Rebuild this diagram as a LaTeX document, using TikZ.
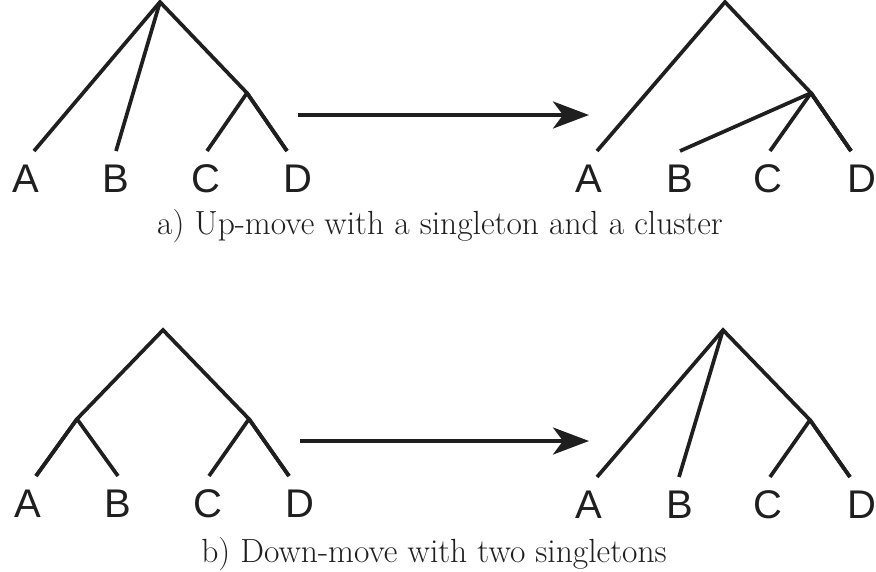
\documentclass[tikz,border=0pt]{standalone}
\usepackage{fontspec}
\newfontfamily\labfont{Liberation Sans}
\usetikzlibrary{arrows.meta}
\begin{document}
\begin{tikzpicture}[x=1pt,y=-1pt,
  edge/.style={line width=3.7pt, line cap=butt, line join=miter, color=black!88},
  sub/.style={edge, line join=round},
  leaf/.style={anchor=base, inner sep=0pt, font=\labfont\fontsize{40}{48}\selectfont, text=black!88},
  caption/.style={anchor=base, inner sep=0pt, font=\fontsize{33.5}{40}\selectfont, text=black!88},
  move/.style={line width=3.7pt, color=black!88, -{Stealth[length=36pt, width=27pt, inset=10pt]}}]
\useasboundingbox (0,0) rectangle (876,571);
% ---- a) left tree
\coordinate (aLr) at (160,2);
\coordinate (aLcd) at (247,93);
\coordinate (aLa) at (34,151);
\coordinate (aLb) at (116,151);
\coordinate (aLc) at (207,151);
\coordinate (aLd) at (287,151);
\draw[edge] (aLa) -- (aLr) -- (aLcd) -- (aLd);
\draw[edge] (aLb) -- (aLr);
\draw[sub] (aLc) -- (aLcd) -- (aLd);
\node[leaf] (tA1) at (26,192) {A};
\node[leaf] (tB1) at (116,192) {B};
\node[leaf] (tC1) at (206,192) {C};
\node[leaf] (tD1) at (298,192) {D};
% ---- a) right tree
\coordinate (aRr) at (725,2);
\coordinate (aRn) at (811,93);
\coordinate (aRa) at (597,151);
\coordinate (aRb) at (680,151);
\coordinate (aRc) at (770,151);
\coordinate (aRd) at (851,151);
\draw[edge] (aRa) -- (aRr) -- (aRn) -- (aRd);
\draw[sub] (aRb) -- (aRn) -- (aRd);
\draw[sub] (aRc) -- (aRn) -- (aRd);
\node[leaf] (tA2) at (589,192) {A};
\node[leaf] (tB2) at (680,192) {B};
\node[leaf] (tC2) at (768,192) {C};
\node[leaf] (tD2) at (862,192) {D};
% arrow a
\coordinate (aS) at (298,115);
\coordinate (aE) at (589,115);
\draw[move] (aS) -- (aE);
\node[caption] (capA) at (440,234) {a) Up-move with a singleton and a cluster};
% ---- b) left tree
\coordinate (bLr) at (163,330);
\coordinate (bLab) at (77,419);
\coordinate (bLcd) at (249,419);
\coordinate (bLa) at (36,476);
\coordinate (bLb) at (118,476);
\coordinate (bLc) at (209,476);
\coordinate (bLd) at (289,476);
\draw[edge] (bLa) -- (bLab) -- (bLr) -- (bLcd) -- (bLd);
\draw[sub] (bLb) -- (bLab) -- (bLa);
\draw[sub] (bLc) -- (bLcd) -- (bLd);
\node[leaf] (tA3) at (28,517) {A};
\node[leaf] (tB3) at (118,517) {B};
\node[leaf] (tC3) at (208,517) {C};
\node[leaf] (tD3) at (300,517) {D};
% ---- b) right tree
\coordinate (bRr) at (723,330);
\coordinate (bRcd) at (810,420);
\coordinate (bRa) at (597,477);
\coordinate (bRb) at (679,477);
\coordinate (bRc) at (770,477);
\coordinate (bRd) at (850,477);
\draw[edge] (bRa) -- (bRr) -- (bRcd) -- (bRd);
\draw[edge] (bRb) -- (bRr);
\draw[sub] (bRc) -- (bRcd) -- (bRd);
\node[leaf] (tA4) at (589,518) {A};
\node[leaf] (tB4) at (680,518) {B};
\node[leaf] (tC4) at (768,518) {C};
\node[leaf] (tD4) at (862,518) {D};
% arrow b
\coordinate (bS) at (300,441);
\coordinate (bE) at (589,441);
\draw[move] (bS) -- (bE);
\node[caption] (capB) at (434,562) {b) Down-move with two singletons};
\end{tikzpicture}
\end{document}
